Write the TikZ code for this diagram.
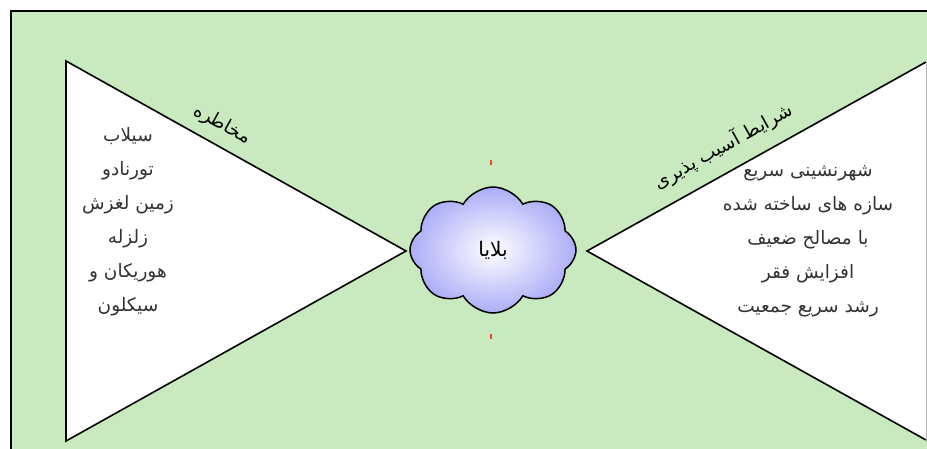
\documentclass[tikz,border=0pt]{standalone}
\usepackage{fontspec}
\newfontfamily\farsi[Script=Arabic]{DejaVu Sans}
\TeXXeTstate=1
\usetikzlibrary{shapes.symbols, positioning}
\definecolor{bggreen}{RGB}{201,234,191}
\definecolor{cloudblue}{RGB}{172,172,248}
\definecolor{tickred}{RGB}{225,80,40}
\tikzset{
  wedge/.style={fill=white, draw, line width=1.6pt, line join=miter},
  itemlist/.style={align=center, font=\farsi\fontsize{18.5}{34}\selectfont, text=black!80},
  edgelabel/.style={font=\farsi\fontsize{18.5}{20}\selectfont, text=black, inner sep=1pt},
  disaster/.style={cloud, cloud puffs=8, cloud puff arc=120, aspect=1.3, draw, line width=1.5pt,
    minimum width=166pt, minimum height=126pt, inner color=white, outer color=cloudblue,
    font=\farsi\fontsize{20}{22}\selectfont}
}

\begin{document}
\begin{tikzpicture}[x=1pt, y=-1pt]
  \useasboundingbox (0,0) rectangle (927,448);
  \clip (0,0) rectangle (927,448);
  % Frame
  \draw[fill=bggreen, line width=2.2pt] (11,11) rectangle (950,470);

  % Corners of the wedges
  \coordinate (ltop) at (66,61);
  \coordinate (lbot) at (66,441);
  \coordinate (ltip) at (406,251);
  \coordinate (rtip) at (587,251);
  \coordinate (rtop) at (926,62);
  \coordinate (rbot) at (926,440);

  % Wedges
  \draw[wedge] (ltop) -- (ltip) -- (lbot) -- cycle;
  \fill[white] (rtop) -- (rtip) -- (rbot) -- cycle;
  \draw[line width=1.6pt] (rtop) -- (rtip) -- (rbot);
  \draw[gray!60, line width=0.6pt] (rtop) -- (rbot);

  % Nodes
  \node[disaster] (balaya) at (493,250) {\beginR بلایا\endR};
  \node[itemlist] (hazards) at (128,222) {\beginR سیلاب\endR\\ \beginR تورنادو\endR\\ \beginR زمین لغزش\endR\\ \beginR زلزله\endR\\ \beginR هوریکان و\endR\\ \beginR سیکلون\endR};
  \node[itemlist] (vulner) at (808,241) {\beginR شهرنشینی سریع\endR\\ \beginR سازه های ساخته شده\endR\\ \beginR با مصالح ضعیف\endR\\ \beginR افزایش فقر\endR\\ \beginR رشد سریع جمعیت\endR};
  \node[edgelabel, rotate=-29.2] (hazlabel) at (222,125) {\beginR مخاطره\endR};
  \node[edgelabel, rotate=29] (vullabel) at (723,146) {\beginR شرایط آسیب پذیری\endR};

  % Marks above and below the cloud
  \draw[tickred, line width=1.1pt] (491,160) -- (491,165);
  \draw[tickred, line width=1.1pt] (491,334) -- (491,339);
\end{tikzpicture}
\end{document}
